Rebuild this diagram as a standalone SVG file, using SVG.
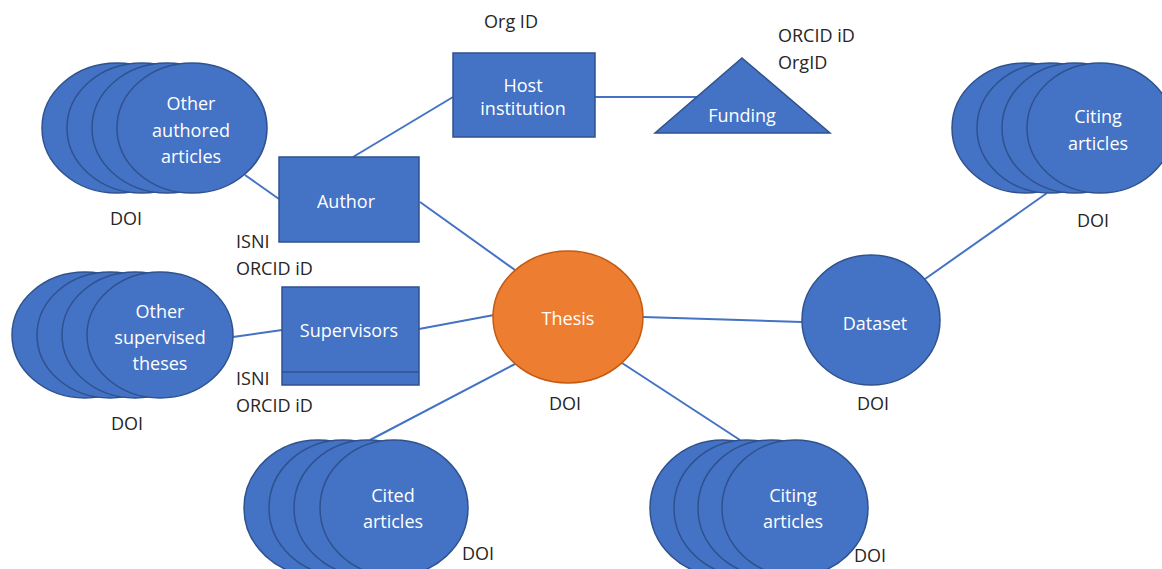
<svg xmlns="http://www.w3.org/2000/svg" width="1162" height="569" viewBox="0 0 1162 569">
  <defs>
    <style>
      .node { fill: #4472C4; stroke: #2F528F; stroke-width: 1.5; }
      .thesis { fill: #ED7D31; stroke: #C55A11; stroke-width: 1.5; }
      .link { stroke: #4472C4; stroke-width: 2; fill: none; }
      .in { font-family: "Open Sans", "DejaVu Sans", sans-serif; font-size: 18px; fill: #FFFFFF; text-anchor: middle; }
      .lbl { font-family: "Open Sans", "DejaVu Sans", sans-serif; font-size: 18px; fill: #262626; }
      .mid { text-anchor: middle; }
    </style>
  </defs>
  <rect width="1162" height="569" fill="#FFFFFF"/>

  <!-- connectors -->
  <g id="connectors">
    <line class="link" x1="245" y1="175" x2="279" y2="199"/>
    <line class="link" x1="353" y1="157" x2="453" y2="97"/>
    <line class="link" x1="595" y1="97" x2="697" y2="97"/>
    <line class="link" x1="420" y1="202" x2="515" y2="270"/>
    <line class="link" x1="233" y1="337" x2="282" y2="330"/>
    <line class="link" x1="419" y1="329" x2="494" y2="315"/>
    <line class="link" x1="643" y1="317" x2="802" y2="322"/>
    <line class="link" x1="515" y1="364" x2="370" y2="440"/>
    <line class="link" x1="622" y1="363" x2="740" y2="440"/>
    <line class="link" x1="925" y1="279" x2="1047" y2="193"/>
  </g>

  <!-- stacked article sets -->
  <g id="other-authored-articles">
    <ellipse class="node" cx="117" cy="128" rx="75" ry="65"/>
    <ellipse class="node" cx="142" cy="128" rx="75" ry="65"/>
    <ellipse class="node" cx="167" cy="128" rx="75" ry="65"/>
    <ellipse class="node" cx="192" cy="128" rx="75" ry="65"/>
    <text class="in" x="191" y="110">Other</text>
    <text class="in" x="191" y="137">authored</text>
    <text class="in" x="191" y="163">articles</text>
    <text class="lbl mid" x="126" y="225">DOI</text>
  </g>

  <g id="other-supervised-theses">
    <ellipse class="node" cx="85" cy="335" rx="73" ry="63"/>
    <ellipse class="node" cx="110" cy="335" rx="73" ry="63"/>
    <ellipse class="node" cx="135" cy="335" rx="73" ry="63"/>
    <ellipse class="node" cx="160" cy="335" rx="73" ry="63"/>
    <text class="in" x="160" y="318">Other</text>
    <text class="in" x="160" y="344">supervised</text>
    <text class="in" x="160" y="370">theses</text>
    <text class="lbl mid" x="127" y="430">DOI</text>
  </g>

  <g id="cited-articles">
    <ellipse class="node" cx="318" cy="508" rx="74" ry="68"/>
    <ellipse class="node" cx="343" cy="508" rx="74" ry="68"/>
    <ellipse class="node" cx="368" cy="508" rx="74" ry="68"/>
    <ellipse class="node" cx="394" cy="508" rx="74" ry="68"/>
    <text class="in" x="393" y="502">Cited</text>
    <text class="in" x="393" y="528">articles</text>
    <text class="lbl mid" x="478" y="560">DOI</text>
  </g>

  <g id="citing-articles-thesis">
    <ellipse class="node" cx="723" cy="508" rx="73" ry="68"/>
    <ellipse class="node" cx="747" cy="508" rx="73" ry="68"/>
    <ellipse class="node" cx="771" cy="508" rx="73" ry="68"/>
    <ellipse class="node" cx="795" cy="508" rx="73" ry="68"/>
    <text class="in" x="793" y="502">Citing</text>
    <text class="in" x="793" y="528">articles</text>
    <text class="lbl mid" x="870" y="562">DOI</text>
  </g>

  <g id="citing-articles-dataset">
    <ellipse class="node" cx="1025" cy="128" rx="73" ry="65"/>
    <ellipse class="node" cx="1050" cy="128" rx="73" ry="65"/>
    <ellipse class="node" cx="1075" cy="128" rx="73" ry="65"/>
    <ellipse class="node" cx="1100" cy="128" rx="73" ry="65"/>
    <text class="in" x="1098" y="123">Citing</text>
    <text class="in" x="1098" y="150">articles</text>
    <text class="lbl mid" x="1093" y="227">DOI</text>
  </g>

  <!-- people and organisations -->
  <g id="author">
    <rect class="node" x="279" y="157" width="140" height="85"/>
    <text class="in" x="346" y="208">Author</text>
    <text class="lbl" x="236" y="248">ISNI</text>
    <text class="lbl" x="236" y="275">ORCID iD</text>
  </g>

  <g id="supervisors">
    <rect class="node" x="282" y="287" width="137" height="98"/>
    <line x1="282" y1="372" x2="419" y2="372" stroke="#2F528F" stroke-width="1.5"/>
    <text class="in" x="349" y="337">Supervisors</text>
    <text class="lbl" x="236" y="385">ISNI</text>
    <text class="lbl" x="236" y="412">ORCID iD</text>
  </g>

  <g id="host-institution">
    <rect class="node" x="453" y="53" width="142" height="84"/>
    <text class="in" x="523" y="92">Host</text>
    <text class="in" x="523" y="115">institution</text>
    <text class="lbl mid" x="511" y="28">Org ID</text>
  </g>

  <g id="funding">
    <polygon class="node" points="742,58 830,133 655,133"/>
    <text class="in" x="742" y="122">Funding</text>
    <text class="lbl" x="778" y="42">ORCID iD</text>
    <text class="lbl" x="778" y="69">OrgID</text>
  </g>

  <!-- central outputs -->
  <g id="thesis">
    <ellipse class="thesis" cx="568" cy="317" rx="75" ry="66"/>
    <text class="in" x="568" y="325">Thesis</text>
    <text class="lbl mid" x="565" y="410">DOI</text>
  </g>

  <g id="dataset">
    <ellipse class="node" cx="871" cy="320" rx="69" ry="65"/>
    <text class="in" x="875" y="330">Dataset</text>
    <text class="lbl mid" x="873" y="410">DOI</text>
  </g>
</svg>
